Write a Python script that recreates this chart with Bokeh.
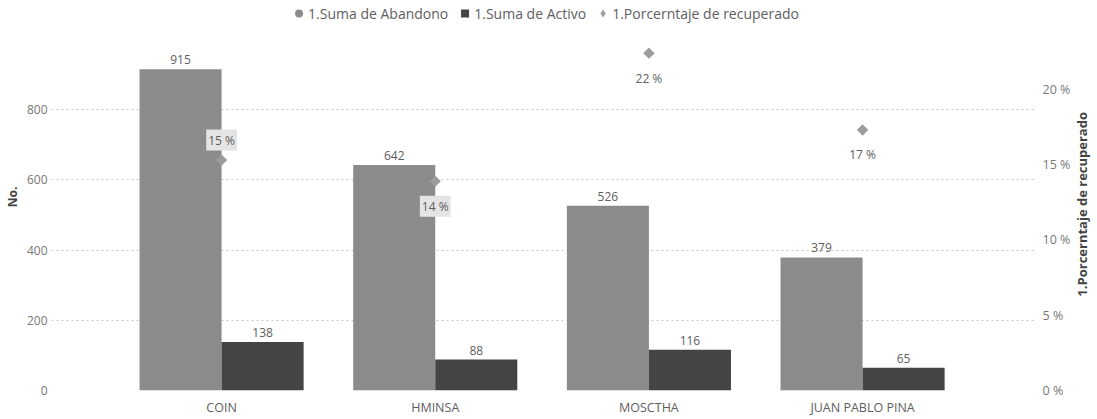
import math
from bokeh.plotting import figure
from bokeh.layouts import row
from bokeh.models import (Range1d, LinearAxis, FixedTicker, PrintfTickFormatter, Div,
                          ColumnDataSource, Legend, LegendItem, CDSView, IndexFilter)
from bokeh.core.properties import value
from bokeh.transform import dodge
from bokeh.embed import file_html
from bokeh.resources import INLINE

# ---- data ----
categories = ["COIN", "HMINSA", "MOSCTHA", "JUAN PABLO PINA"]
abandono = [915, 642, 526, 379]
activo = [138, 88, 116, 65]
porcentaje = [15.3, 13.9, 22.4, 17.3]   # percent
left_ticks = [0, 200, 400, 600, 800]
right_ticks = [0, 5, 10, 15, 20]
series_names = ["1.Suma de Abandono", "1.Suma de Activo", "1.Porcerntaje de recuperado"]

# ---- style ----
FONT = "Open Sans"
AB_COLOR = "#8b8b8b"
AC_COLOR = "#444444"
PCT_COLOR = "#9c9c9c"
TXT = "#5e5e5e"
TICK = "#777777"
Y_MAX = 1102
PCT_MAX = 25.7

idx = list(range(len(categories)))
src = ColumnDataSource(dict(
    x=idx,
    abandono=abandono,
    activo=activo,
    pct=porcentaje,
    ab_lbl=[str(v) for v in abandono],
    ac_lbl=[str(v) for v in activo],
    pct_lbl=[f"{round(v)} %" for v in porcentaje],
))

fig = figure(frame_width=985, frame_height=387,
             x_range=Range1d(-0.796, 3.814), y_range=Range1d(0, Y_MAX),
             output_backend="svg", toolbar_location=None,
             min_border_left=45, min_border_right=33, min_border_top=3, min_border_bottom=0)
fig.extra_y_ranges = {"pct": Range1d(0, PCT_MAX)}
fig.outline_line_color = None
fig.background_fill_color = "white"
fig.border_fill_color = "white"

# x axis
xa = fig.xaxis[0]
xa.ticker = FixedTicker(ticks=idx)
xa.major_label_overrides = {i: c for i, c in zip(idx, categories)}
xa.axis_line_color = None
xa.major_tick_line_color = None
xa.minor_tick_line_color = None
xa.major_tick_out = 0
xa.major_tick_in = 0
xa.axis_label_standoff = 0
xa.major_label_standoff = 8
xa.major_label_text_font = FONT
xa.major_label_text_font_size = "12.5px"
xa.major_label_text_color = TXT
fig.xgrid.visible = False

# left axis
ya = fig.yaxis[0]
ya.ticker = FixedTicker(ticks=left_ticks)
ya.axis_line_color = None
ya.major_tick_line_color = None
ya.minor_tick_line_color = None
ya.major_tick_out = 0
ya.major_tick_in = 0
ya.major_label_standoff = 4
ya.major_label_text_font = FONT
ya.major_label_text_font_size = "12px"
ya.major_label_text_color = TICK
ya.axis_label = "No."
ya.axis_label_text_font = FONT
ya.axis_label_text_font_style = "bold"
ya.axis_label_text_font_size = "12px"
ya.axis_label_text_color = "#444444"
ya.axis_label_standoff = 3

fig.ygrid.grid_line_color = "#c8c8c8"
fig.ygrid.grid_line_dash = "2 3"
fig.ygrid.grid_line_width = 1

# right axis
ra = LinearAxis(y_range_name="pct", ticker=FixedTicker(ticks=right_ticks),
                formatter=PrintfTickFormatter(format="%d %%"))
ra.axis_line_color = None
ra.major_tick_line_color = None
ra.minor_tick_line_color = None
ra.major_tick_out = 0
ra.major_tick_in = 0
ra.major_label_standoff = 6
ra.major_label_text_font = FONT
ra.major_label_text_font_size = "12.5px"
ra.major_label_text_color = TICK
fig.add_layout(ra, "right")

# bars
BW = 0.384
OFF = 0.192
fig.vbar(x=dodge("x", -OFF), top="abandono", width=BW, source=src,
         fill_color=AB_COLOR, line_color=None)
fig.vbar(x=dodge("x", OFF), top="activo", width=BW, source=src,
         fill_color=AC_COLOR, line_color=None)

# bar labels
for col, lbl, off in (("abandono", "ab_lbl", -OFF), ("activo", "ac_lbl", OFF)):
    fig.text(x=dodge("x", off), y=col, text=lbl, source=src,
             text_align="center", text_baseline="bottom", y_offset=-5,
             text_font=value(FONT), text_font_size="12px", text_color=TXT)

# percentage markers
fig.scatter(x="x", y="pct", y_range_name="pct", source=src, marker="square",
            angle=45, angle_units="deg", size=8,
            fill_color=PCT_COLOR, line_color=None)

# percentage labels
fig.text(x="x", y="pct", y_range_name="pct", text="pct_lbl", source=src,
         view=CDSView(filter=IndexFilter([0])), y_offset=-20,
         text_align="center", text_baseline="middle",
         text_font=value(FONT), text_font_size="12px", text_color=TXT,
         background_fill_color="#e4e4e4", padding=2)
fig.text(x="x", y="pct", y_range_name="pct", text="pct_lbl", source=src,
         view=CDSView(filter=IndexFilter([1])), y_offset=25,
         text_align="center", text_baseline="middle",
         text_font=value(FONT), text_font_size="12px", text_color=TXT,
         background_fill_color="#e4e4e4", padding=2)
fig.text(x="x", y="pct", y_range_name="pct", text="pct_lbl", source=src,
         view=CDSView(filter=IndexFilter([2, 3])), y_offset=25,
         text_align="center", text_baseline="middle",
         text_font=value(FONT), text_font_size="12px", text_color=TXT)

# legend proxies (zero-size markers on the real data; legend draws the symbol)
l1 = fig.scatter(x="x", y="abandono", source=src, marker="circle", size=0,
                 fill_color=AB_COLOR, line_color=None)
l2 = fig.scatter(x="x", y="activo", source=src, marker="square", size=0,
                 fill_color=AC_COLOR, line_color=None)
l3 = fig.scatter(x="x", y="pct", y_range_name="pct", source=src, marker="diamond", size=0,
                 fill_color=PCT_COLOR, line_color=None)
legend = Legend(items=[LegendItem(label=series_names[0], renderers=[l1]),
                       LegendItem(label=series_names[1], renderers=[l2]),
                       LegendItem(label=series_names[2], renderers=[l3])],
                orientation="horizontal", location="top_center",
                glyph_width=20, glyph_height=20, label_standoff=0, spacing=6,
                padding=0, margin=0, border_line_color=None, background_fill_alpha=0,
                label_text_font=FONT, label_text_font_size="14px", label_text_color=TXT,
                label_height=18)
fig.add_layout(legend)

# right axis title (reads bottom-to-top, as in the reference)
title_r = Div(
    text=(f'<div style="height:408px;display:flex;align-items:center;justify-content:center;">'
          f'<span style="writing-mode:vertical-rl;transform:rotate(180deg);white-space:nowrap;'
          f'font-family:\'Open Sans\';font-weight:bold;font-size:13px;color:#444444;">'
          f'{series_names[2]}</span></div>'),
    width=18, height=408, margin=0)

p = row(fig, title_r)

open("out.html", "w").write(file_html(p, INLINE))
